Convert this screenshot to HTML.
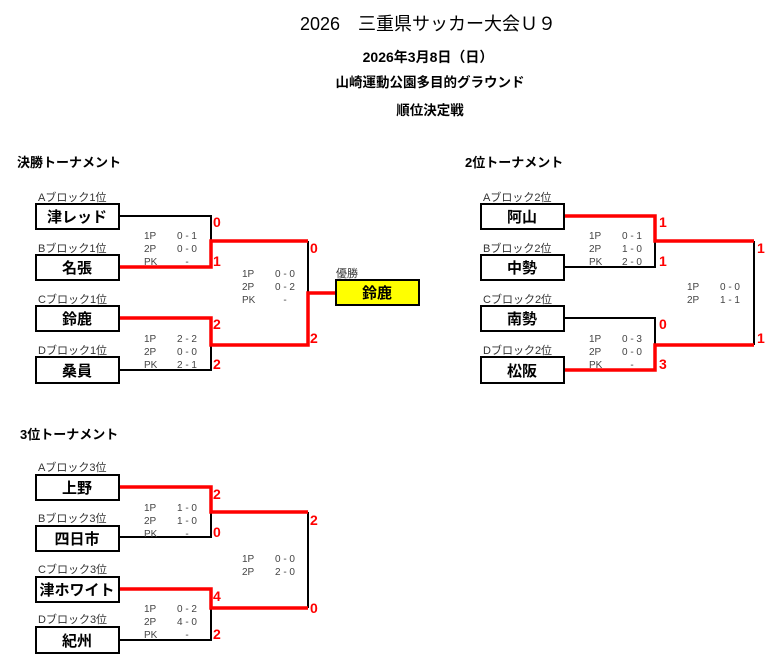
<!DOCTYPE html>
<html><head><meta charset="utf-8"><style>
html,body{margin:0;padding:0;background:#fff;}
svg{display:block;font-family:"Liberation Sans","Noto Sans CJK JP",sans-serif;}
.h{font-weight:bold;font-size:13px;fill:#000;}
.lb{font-size:11px;fill:#333;}
.nm{font-size:15px;font-weight:bold;fill:#000;}
.sm{font-size:10px;fill:#444;}
.sc{font-size:14px;font-weight:bold;fill:#f00;}
.box{fill:#fff;stroke:#000;stroke-width:2;}
.k{stroke:#000;stroke-width:2;fill:none;}
.r{stroke:#f00;stroke-width:3.5;fill:none;}
</style></head><body>
<svg width="784" height="666" viewBox="0 0 784 666">
<text x="428" y="30" text-anchor="middle" font-size="18" fill="#000">2026　三重県サッカー大会Ｕ９</text>
<text x="428" y="62" text-anchor="middle" font-size="14" font-weight="bold">2026年3月8日（日）</text>
<text x="430" y="87" text-anchor="middle" font-size="13.5" font-weight="bold">山崎運動公園多目的グラウンド</text>
<text x="430" y="115" text-anchor="middle" font-size="13.5" font-weight="bold">順位決定戦</text>

<!-- Section 1 -->
<text class="h" x="17" y="167">決勝トーナメント</text>
<path class="k" d="M119 216H211V267"/>
<path class="k" d="M119 370H211V345"/>
<path class="k" d="M308 241V293"/>
<path class="r" d="M119 267H211V241H308"/>
<path class="r" d="M119 318H211V345H308V293H336"/>
<text class="lb" x="38" y="201">Aブロック1位</text>
<text class="lb" x="38" y="252">Bブロック1位</text>
<text class="lb" x="38" y="303">Cブロック1位</text>
<text class="lb" x="38" y="354">Dブロック1位</text>
<rect class="box" x="36" y="204" width="83" height="25"/>
<rect class="box" x="36" y="255" width="83" height="25"/>
<rect class="box" x="36" y="306" width="83" height="25"/>
<rect class="box" x="36" y="357" width="83" height="26"/>
<text class="nm" x="77" y="222" text-anchor="middle">津レッド</text>
<text class="nm" x="77" y="273" text-anchor="middle">名張</text>
<text class="nm" x="77" y="324" text-anchor="middle">鈴鹿</text>
<text class="nm" x="77" y="376" text-anchor="middle">桑員</text>
<text class="lb" x="336" y="277">優勝</text>
<rect x="336" y="280" width="83" height="25" fill="#ff0" stroke="#000" stroke-width="2"/>
<text class="nm" x="377" y="298" text-anchor="middle">鈴鹿</text>
<text class="sc" x="213" y="227">0</text>
<text class="sc" x="213" y="266">1</text>
<text class="sc" x="213" y="329">2</text>
<text class="sc" x="213" y="369">2</text>
<text class="sc" x="310" y="253">0</text>
<text class="sc" x="310" y="343">2</text>
<g class="sm">
<text x="144" y="239">1P</text><text x="187" y="239" text-anchor="middle">0 - 1</text>
<text x="144" y="252">2P</text><text x="187" y="252" text-anchor="middle">0 - 0</text>
<text x="144" y="265">PK</text><text x="187" y="265" text-anchor="middle">-</text>
<text x="144" y="342">1P</text><text x="187" y="342" text-anchor="middle">2 - 2</text>
<text x="144" y="355">2P</text><text x="187" y="355" text-anchor="middle">0 - 0</text>
<text x="144" y="368">PK</text><text x="187" y="368" text-anchor="middle">2 - 1</text>
<text x="242" y="277">1P</text><text x="285" y="277" text-anchor="middle">0 - 0</text>
<text x="242" y="290">2P</text><text x="285" y="290" text-anchor="middle">0 - 2</text>
<text x="242" y="303">PK</text><text x="285" y="303" text-anchor="middle">-</text>
</g>

<!-- Section 2 -->
<text class="h" x="465" y="167">2位トーナメント</text>
<path class="k" d="M564 267H655V241"/>
<path class="k" d="M564 318H655V345"/>
<path class="k" d="M754 241V345"/>
<path class="r" d="M564 216H655V241H754"/>
<path class="r" d="M564 370H655V345H754"/>
<text class="lb" x="483" y="201">Aブロック2位</text>
<text class="lb" x="483" y="252">Bブロック2位</text>
<text class="lb" x="483" y="303">Cブロック2位</text>
<text class="lb" x="483" y="354">Dブロック2位</text>
<rect class="box" x="481" y="204" width="83" height="25"/>
<rect class="box" x="481" y="255" width="83" height="25"/>
<rect class="box" x="481" y="306" width="83" height="25"/>
<rect class="box" x="481" y="357" width="83" height="26"/>
<text class="nm" x="522" y="222" text-anchor="middle">阿山</text>
<text class="nm" x="522" y="273" text-anchor="middle">中勢</text>
<text class="nm" x="522" y="324" text-anchor="middle">南勢</text>
<text class="nm" x="522" y="376" text-anchor="middle">松阪</text>
<text class="sc" x="659" y="227">1</text>
<text class="sc" x="659" y="266">1</text>
<text class="sc" x="659" y="329">0</text>
<text class="sc" x="659" y="369">3</text>
<text class="sc" x="757" y="253">1</text>
<text class="sc" x="757" y="343">1</text>
<g class="sm">
<text x="589" y="239">1P</text><text x="632" y="239" text-anchor="middle">0 - 1</text>
<text x="589" y="252">2P</text><text x="632" y="252" text-anchor="middle">1 - 0</text>
<text x="589" y="265">PK</text><text x="632" y="265" text-anchor="middle">2 - 0</text>
<text x="589" y="342">1P</text><text x="632" y="342" text-anchor="middle">0 - 3</text>
<text x="589" y="355">2P</text><text x="632" y="355" text-anchor="middle">0 - 0</text>
<text x="589" y="368">PK</text><text x="632" y="368" text-anchor="middle">-</text>
<text x="687" y="290">1P</text><text x="730" y="290" text-anchor="middle">0 - 0</text>
<text x="687" y="303">2P</text><text x="730" y="303" text-anchor="middle">1 - 1</text>
</g>

<!-- Section 3 -->
<text class="h" x="20" y="439">3位トーナメント</text>
<path class="k" d="M119 537H211V512"/>
<path class="k" d="M119 640H211V608"/>
<path class="k" d="M308 512V608"/>
<path class="r" d="M119 487H211V512H308"/>
<path class="r" d="M119 589H211V608H308"/>
<text class="lb" x="38" y="471">Aブロック3位</text>
<text class="lb" x="38" y="522">Bブロック3位</text>
<text class="lb" x="38" y="573">Cブロック3位</text>
<text class="lb" x="38" y="623">Dブロック3位</text>
<rect class="box" x="36" y="475" width="83" height="25"/>
<rect class="box" x="36" y="526" width="83" height="25"/>
<rect class="box" x="36" y="577" width="83" height="25"/>
<rect class="box" x="36" y="627" width="83" height="26"/>
<text class="nm" x="77" y="493" text-anchor="middle">上野</text>
<text class="nm" x="77" y="544" text-anchor="middle">四日市</text>
<text class="nm" x="77" y="595" text-anchor="middle">津ホワイト</text>
<text class="nm" x="77" y="646" text-anchor="middle">紀州</text>
<text class="sc" x="213" y="499">2</text>
<text class="sc" x="213" y="537">0</text>
<text class="sc" x="213" y="601">4</text>
<text class="sc" x="213" y="639">2</text>
<text class="sc" x="310" y="525">2</text>
<text class="sc" x="310" y="613">0</text>
<g class="sm">
<text x="144" y="511">1P</text><text x="187" y="511" text-anchor="middle">1 - 0</text>
<text x="144" y="524">2P</text><text x="187" y="524" text-anchor="middle">1 - 0</text>
<text x="144" y="537">PK</text><text x="187" y="537" text-anchor="middle">-</text>
<text x="144" y="612">1P</text><text x="187" y="612" text-anchor="middle">0 - 2</text>
<text x="144" y="625">2P</text><text x="187" y="625" text-anchor="middle">4 - 0</text>
<text x="144" y="638">PK</text><text x="187" y="638" text-anchor="middle">-</text>
<text x="242" y="562">1P</text><text x="285" y="562" text-anchor="middle">0 - 0</text>
<text x="242" y="575">2P</text><text x="285" y="575" text-anchor="middle">2 - 0</text>
</g>
</svg>
</body></html>
